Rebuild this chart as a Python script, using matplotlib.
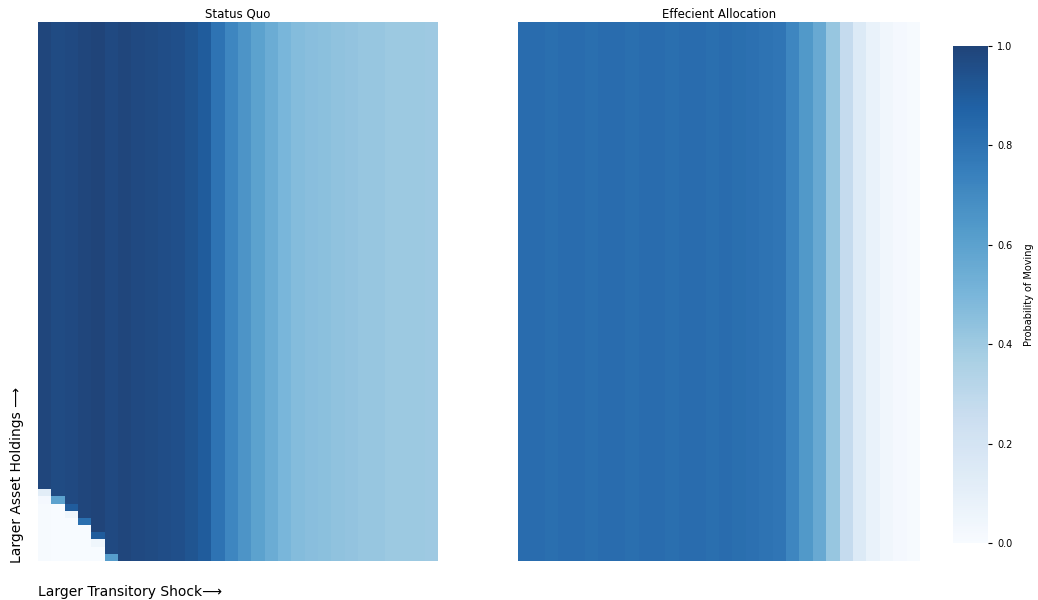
import numpy as np
import matplotlib
matplotlib.use('Agg')
import matplotlib.pyplot as plt

# grid size (rows = asset holdings, cols = transitory shock)
n_rows = 75
n_cols = 30

# status quo: column profile (same on every row except the bottom-left corner)
status_quo_cols = [0.99, 0.97, 0.98, 0.99, 1.00, 0.98, 0.99, 0.98, 0.97, 0.96,
                   0.95, 0.93, 0.90, 0.80, 0.72, 0.66, 0.60, 0.55, 0.50, 0.47,
                   0.46, 0.45, 0.44, 0.43, 0.42, 0.42, 0.41, 0.41, 0.41, 0.40]
# bottom-left corner (lowest asset rows, from the bottom up)
sq_corner = {
    0: [0.01, 0.01, 0.01, 0.01, 0.01, 0.01, 0.01, 0.01, 0.02, 0.12],
    1: [0.0, 0.0, 0.0, 0.0, 0.0, 0.0, 0.0, 0.0, 0.60],
    2: [0.0, 0.0, 0.0, 0.0, 0.0, 0.0, 0.05, 0.90],
    3: [0.0, 0.0, 0.0, 0.0, 0.0, 0.82],
    4: [0.0, 0.0, 0.05, 0.90],
    5: [0.62],
}

# efficient allocation: same profile on every row
eff_cols = [0.83, 0.83, 0.82, 0.83, 0.83, 0.82, 0.83, 0.83, 0.82, 0.83,
            0.83, 0.82, 0.83, 0.83, 0.82, 0.83, 0.82, 0.81, 0.80, 0.79,
            0.72, 0.64, 0.56, 0.42, 0.27, 0.15, 0.08, 0.04, 0.02, 0.01]

status_quo = np.tile(status_quo_cols, (n_rows, 1))
for c, vals in sq_corner.items():
    status_quo[:len(vals), c] = vals

efficient = np.tile(eff_cols, (n_rows, 1))

fig = plt.figure(figsize=(10.38, 6), dpi=100)
ax1 = fig.add_axes([38/1038, 39/600, 400/1038, 539/600])
ax2 = fig.add_axes([518/1038, 39/600, 402/1038, 539/600])
cax = fig.add_axes([953/1038, 57/600, 35/1038, 497/600])

for ax, data, title in [(ax1, status_quo, 'Status Quo'),
                        (ax2, efficient, 'Effecient Allocation')]:
    mesh = ax.pcolormesh(data, cmap='Blues', vmin=0, vmax=1, alpha=0.9)
    ax.set_xticks([])
    ax.set_yticks([])
    for s in ax.spines.values():
        s.set_visible(False)
    ax.set_title(title, fontsize=8.5, pad=3)

cb = fig.colorbar(mesh, cax=cax)
cb.outline.set_visible(False)
cb.set_ticks([0.0, 0.2, 0.4, 0.6, 0.8, 1.0])
cb.ax.tick_params(labelsize=7, length=3)
cb.set_label('Probability of Moving', fontsize=7, labelpad=8)

fig.text(38/1038, 1 - 592/600, 'Larger Transitory Shock\u27f6', fontsize=10,
         ha='left', va='center')
fig.text(17/1038, 1 - 563/600, 'Larger Asset Holdings \u27f6', fontsize=10,
         rotation=90, ha='center', va='bottom')

plt.savefig('out.png', dpi=100)
